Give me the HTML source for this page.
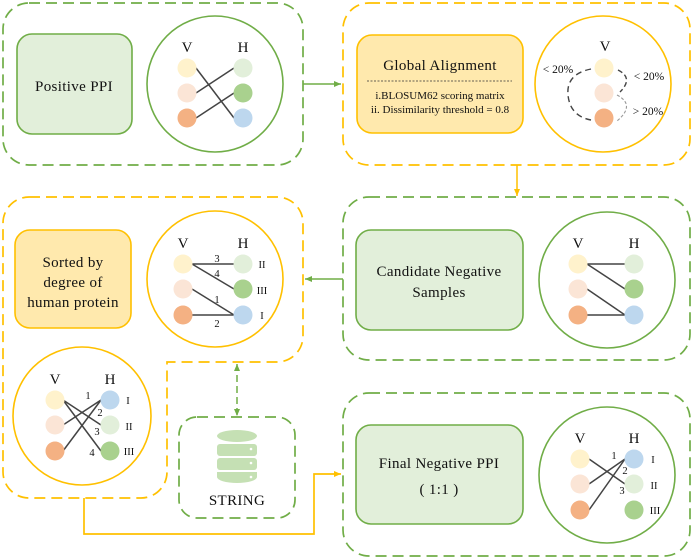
<!DOCTYPE html>
<html><head><meta charset="utf-8"><style>
html,body{margin:0;padding:0;background:#fff}
svg{display:block;font-family:"Liberation Serif","DejaVu Serif",serif}
svg text{font-family:"Liberation Serif","DejaVu Serif",serif;fill:#111}
.b{font-size:15px;letter-spacing:0.35px}
</style></head><body>
<svg width="694" height="559" viewBox="0 0 694 559" xmlns="http://www.w3.org/2000/svg" font-family="Liberation Serif, serif">
<defs>
<marker id="ag" markerWidth="8" markerHeight="8" refX="7" refY="4" orient="auto" markerUnits="userSpaceOnUse"><path d="M0,1 L7,4 L0,7 z" fill="#70ad47"/></marker>
<marker id="ay" markerWidth="8" markerHeight="8" refX="7" refY="4" orient="auto" markerUnits="userSpaceOnUse"><path d="M0,1 L7,4 L0,7 z" fill="#ffc000"/></marker>
<marker id="ags" markerWidth="8" markerHeight="8" refX="7" refY="4" orient="auto-start-reverse" markerUnits="userSpaceOnUse"><path d="M0,1 L7,4 L0,7 z" fill="#70ad47"/></marker>
</defs>
<g fill="none" stroke-width="1.7" stroke-dasharray="11,6">
<rect x="3" y="3" width="300" height="162" rx="26" stroke="#70ad47"/>
<rect x="343" y="3" width="347" height="162" rx="26" stroke="#ffc000"/>
<rect x="343" y="197" width="347" height="163" rx="26" stroke="#70ad47"/>
<path d="M29,197 H277 A26,26 0 0 1 303,223 V336 A26,26 0 0 1 277,362 H167 V472 A26,26 0 0 1 141,498 H29 A26,26 0 0 1 3,472 V223 A26,26 0 0 1 29,197 Z" stroke="#ffc000"/>
<rect x="179" y="417" width="116" height="101" rx="18" stroke="#70ad47"/>
<rect x="343" y="393" width="347" height="163" rx="26" stroke="#70ad47"/>
</g>
<line x1="303" y1="84" x2="341" y2="84" stroke="#70ad47" stroke-width="1.5" marker-end="url(#ag)"/>
<line x1="517" y1="165" x2="517" y2="196" stroke="#ffc000" stroke-width="1.5" marker-end="url(#ay)"/>
<line x1="343" y1="279" x2="305" y2="279" stroke="#70ad47" stroke-width="1.5" marker-end="url(#ag)"/>
<line x1="237" y1="364" x2="237" y2="416" stroke="#70ad47" stroke-width="1.5" stroke-dasharray="7,4" marker-start="url(#ags)" marker-end="url(#ags)"/>
<polyline points="84,498 84,534 314,534 314,474 341,474" fill="none" stroke="#ffc000" stroke-width="1.7" marker-end="url(#ay)"/>
<rect x="17" y="34" width="115" height="100" rx="15" fill="#e2efda" stroke="#70ad47" stroke-width="1.6"/>
<text class="b" x="74" y="91" text-anchor="middle">Positive PPI</text>
<rect x="357" y="35" width="166" height="98" rx="15" fill="#ffe9ad" stroke="#ffc000" stroke-width="1.6"/>
<text class="b" x="440" y="70" text-anchor="middle">Global Alignment</text>
<line x1="367" y1="81" x2="512" y2="81" stroke="#333" stroke-width="0.8" stroke-dasharray="2,1.5"/>
<text x="440" y="99" font-size="11" text-anchor="middle">i.BLOSUM62 scoring matrix</text>
<text x="440" y="113" font-size="11" text-anchor="middle">ii. Dissimilarity threshold = 0.8</text>
<rect x="356" y="230" width="167" height="100" rx="15" fill="#e2efda" stroke="#70ad47" stroke-width="1.6"/>
<text class="b" x="439" y="276" text-anchor="middle">Candidate Negative</text>
<text class="b" x="439" y="297" text-anchor="middle">Samples</text>
<rect x="15" y="230" width="116" height="98" rx="15" fill="#ffe9ad" stroke="#ffc000" stroke-width="1.6"/>
<text class="b" x="73" y="267" text-anchor="middle">Sorted by</text>
<text class="b" x="73" y="287" text-anchor="middle">degree of</text>
<text class="b" x="73" y="307" text-anchor="middle">human protein</text>
<rect x="356" y="425" width="167" height="99" rx="15" fill="#e2efda" stroke="#70ad47" stroke-width="1.6"/>
<text class="b" x="439" y="468" text-anchor="middle">Final Negative PPI</text>
<text class="b" x="439" y="494" text-anchor="middle">( 1:1 )</text>
<g fill="#c5e0b4">
<ellipse cx="237" cy="436" rx="20" ry="6"/>
<rect x="217" y="444" width="40" height="12" rx="3"/>
<rect x="217" y="458" width="40" height="12" rx="3"/>
<path d="M217,472 h40 v5 a20,6 0 0 1 -40,0 z"/>
</g>
<g fill="#fff"><circle cx="251" cy="449" r="1.3"/><circle cx="251" cy="463" r="1.3"/><circle cx="251" cy="477" r="1.3"/></g>
<text class="b" x="237" y="505" text-anchor="middle">STRING</text>
<g fill="#fff" stroke-width="1.6">
<circle cx="215" cy="84" r="68" stroke="#70ad47"/>
<circle cx="603" cy="84" r="68" stroke="#ffc000"/>
<circle cx="607" cy="280" r="68" stroke="#70ad47"/>
<circle cx="215" cy="279" r="68" stroke="#ffc000"/>
<circle cx="82" cy="416" r="69" stroke="#ffc000"/>
<circle cx="607" cy="475" r="68" stroke="#70ad47"/>
</g>
<g stroke="#444" stroke-width="1.5">
<line x1="196" y1="68" x2="234" y2="118"/><line x1="196" y1="93" x2="234" y2="68"/><line x1="196" y1="118" x2="234" y2="93"/>
</g>
<text x="187" y="52" font-size="15" text-anchor="middle">V</text><text x="243" y="52" font-size="15" text-anchor="middle">H</text>
<circle cx="187" cy="68" r="9.5" fill="#fff2cc"/><circle cx="187" cy="93" r="9.5" fill="#fbe5d6"/><circle cx="187" cy="118" r="9.5" fill="#f4b183"/>
<circle cx="243" cy="68" r="9.5" fill="#e2efda"/><circle cx="243" cy="93" r="9.5" fill="#a9d18e"/><circle cx="243" cy="118" r="9.5" fill="#bdd7ee"/>
<text x="605" y="51" font-size="15" text-anchor="middle">V</text>
<circle cx="604" cy="68" r="9.5" fill="#fff2cc"/><circle cx="604" cy="93" r="9.5" fill="#fbe5d6"/><circle cx="604" cy="118" r="9.5" fill="#f4b183"/>
<path d="M591,69 Q566,74 568,95 Q570,116 591,120" fill="none" stroke="#444" stroke-width="1.4" stroke-dasharray="6,4"/>
<path d="M618,70 Q634,78 620,92" fill="none" stroke="#444" stroke-width="1.4" stroke-dasharray="5,3"/>
<path d="M617,95 Q636,105 617,121" fill="none" stroke="#999" stroke-width="1.1" stroke-dasharray="3,2"/>
<text x="558" y="73" font-size="11.5" text-anchor="middle">&lt; 20%</text>
<text x="649" y="80" font-size="11.5" text-anchor="middle">&lt; 20%</text>
<text x="648" y="115" font-size="11.5" text-anchor="middle">&gt; 20%</text>
<g stroke="#444" stroke-width="1.5">
<line x1="587" y1="264" x2="625" y2="264"/><line x1="587" y1="264" x2="625" y2="289"/><line x1="587" y1="289" x2="625" y2="315"/><line x1="587" y1="315" x2="625" y2="315"/>
</g>
<text x="578" y="248" font-size="15" text-anchor="middle">V</text><text x="634" y="248" font-size="15" text-anchor="middle">H</text>
<circle cx="578" cy="264" r="9.5" fill="#fff2cc"/><circle cx="578" cy="289" r="9.5" fill="#fbe5d6"/><circle cx="578" cy="315" r="9.5" fill="#f4b183"/>
<circle cx="634" cy="264" r="9.5" fill="#e2efda"/><circle cx="634" cy="289" r="9.5" fill="#a9d18e"/><circle cx="634" cy="315" r="9.5" fill="#bdd7ee"/>
<g stroke="#444" stroke-width="1.5">
<line x1="192" y1="264" x2="234" y2="264"/><line x1="192" y1="264" x2="234" y2="289"/><line x1="192" y1="289" x2="234" y2="315"/><line x1="192" y1="315" x2="234" y2="315"/>
</g>
<text x="183" y="248" font-size="15" text-anchor="middle">V</text><text x="243" y="248" font-size="15" text-anchor="middle">H</text>
<circle cx="183" cy="264" r="9.5" fill="#fff2cc"/><circle cx="183" cy="289" r="9.5" fill="#fbe5d6"/><circle cx="183" cy="315" r="9.5" fill="#f4b183"/>
<circle cx="243" cy="264" r="9.5" fill="#e2efda"/><circle cx="243" cy="289" r="9.5" fill="#a9d18e"/><circle cx="243" cy="315" r="9.5" fill="#bdd7ee"/>
<g font-size="10.5" text-anchor="middle"><text x="217" y="262">3</text><text x="217" y="277">4</text><text x="217" y="303">1</text><text x="217" y="327">2</text>
<text x="262" y="268">II</text><text x="262" y="294">III</text><text x="262" y="319">I</text></g>
<g stroke="#444" stroke-width="1.5">
<line x1="63" y1="400" x2="101" y2="425"/><line x1="63" y1="400" x2="101" y2="451"/><line x1="63" y1="425" x2="101" y2="400"/><line x1="63" y1="451" x2="101" y2="400"/>
</g>
<text x="55" y="384" font-size="15" text-anchor="middle">V</text><text x="110" y="384" font-size="15" text-anchor="middle">H</text>
<circle cx="55" cy="400" r="9.5" fill="#fff2cc"/><circle cx="55" cy="425" r="9.5" fill="#fbe5d6"/><circle cx="55" cy="451" r="9.5" fill="#f4b183"/>
<circle cx="110" cy="400" r="9.5" fill="#bdd7ee"/><circle cx="110" cy="425" r="9.5" fill="#e2efda"/><circle cx="110" cy="451" r="9.5" fill="#a9d18e"/>
<g font-size="10.5" text-anchor="middle"><text x="88" y="399">1</text><text x="100" y="416">2</text><text x="97" y="435">3</text><text x="92" y="456">4</text>
<text x="128" y="404">I</text><text x="129" y="430">II</text><text x="129" y="455">III</text></g>
<g stroke="#444" stroke-width="1.5">
<line x1="589" y1="459" x2="625" y2="484"/><line x1="589" y1="484" x2="625" y2="459"/><line x1="589" y1="510" x2="625" y2="459"/>
</g>
<text x="580" y="443" font-size="15" text-anchor="middle">V</text><text x="634" y="443" font-size="15" text-anchor="middle">H</text>
<circle cx="580" cy="459" r="9.5" fill="#fff2cc"/><circle cx="580" cy="484" r="9.5" fill="#fbe5d6"/><circle cx="580" cy="510" r="9.5" fill="#f4b183"/>
<circle cx="634" cy="459" r="9.5" fill="#bdd7ee"/><circle cx="634" cy="484" r="9.5" fill="#e2efda"/><circle cx="634" cy="510" r="9.5" fill="#a9d18e"/>
<g font-size="10.5" text-anchor="middle"><text x="614" y="459">1</text><text x="625" y="474">2</text><text x="622" y="494">3</text>
<text x="653" y="463">I</text><text x="654" y="489">II</text><text x="655" y="514">III</text></g>
</svg>
</body></html>
